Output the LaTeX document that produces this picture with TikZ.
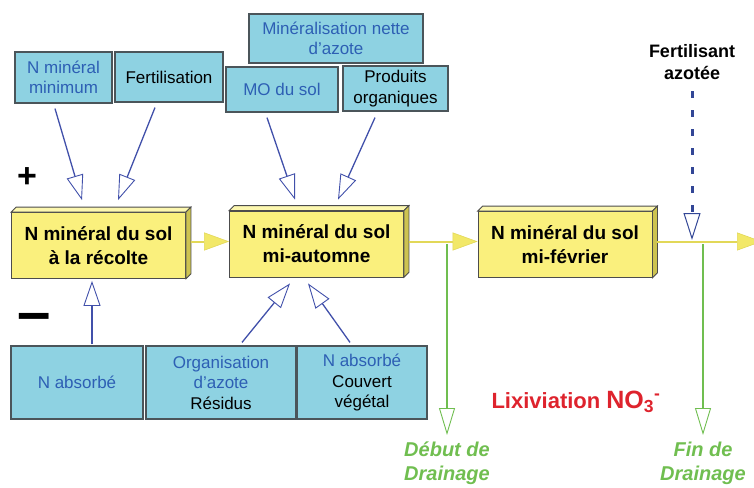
\documentclass[tikz,border=0pt]{standalone}
\usepackage{fontspec}
\setmainfont{Liberation Sans}
\usetikzlibrary{arrows.meta,calc}
\definecolor{boxblue}{RGB}{142,210,226}
\definecolor{boxedge}{RGB}{75,85,90}
\definecolor{txtblue}{RGB}{45,95,180}
\definecolor{arrblue}{RGB}{65,80,170}
\definecolor{dosecol}{RGB}{50,70,150}
\definecolor{soilyel}{RGB}{250,240,125}
\definecolor{soiltop}{RGB}{252,247,175}
\definecolor{soilside}{RGB}{205,195,80}
\definecolor{soilline}{RGB}{226,216,88}
\definecolor{tipyel}{RGB}{242,232,104}
\definecolor{draincol}{RGB}{112,190,80}
\definecolor{lixred}{RGB}{222,35,45}
\newcommand{\boxdepth}[1]{%
  \filldraw[draw=black!70,line width=0.8pt,fill=soiltop] (#1.north west) -- ++(5,-5) -- ($(#1.north east)+(5,-5)$) -- (#1.north east) -- cycle;
  \filldraw[draw=black!70,line width=0.8pt,fill=soilside] (#1.north east) -- ++(5,-5) -- ($(#1.south east)+(5,-5)$) -- (#1.south east) -- cycle;}

\begin{document}
\begin{tikzpicture}[x=1pt,y=-1pt,
  fact/.style={draw=boxedge,line width=1.2pt,fill=boxblue,text=txtblue,align=center,inner sep=0pt,font=\fontsize{17}{20.5}\selectfont},
  soil/.style={draw=black!70,line width=0.8pt,fill=soilyel,minimum width=174pt,minimum height=66pt,inner sep=0pt,align=center,font=\bfseries\fontsize{19}{24}\selectfont},
  feed/.style={arrblue,line width=1.3pt,-{Triangle[open,length=25pt,width=17pt,line width=0.9pt]}},
  flow/.style={soilline,line width=2pt,-{Triangle[length=25pt,width=18pt,line width=0.6pt,fill=tipyel]}},
  drain/.style={draincol,line width=1.3pt,-{Triangle[open,length=27pt,width=16pt,line width=0.9pt]}},
  dose/.style={dosecol,line width=3pt,dash pattern=on 7pt off 12pt,-{Triangle[open,length=27pt,width=17pt,line width=1pt]}},
  drainlbl/.style={draincol,align=center,inner sep=1pt,font=\bfseries\itshape\fontsize{20}{24}\selectfont}]
  \useasboundingbox (0,0) rectangle (754,487);

  % sources (top)
  \node[fact,minimum width=97pt,minimum height=51pt] (minimum) at (63.5,77.5) {N minéral\\minimum};
  \node[fact,text=black,minimum width=108pt,minimum height=50pt] (fertil) at (169,77) {Fertilisation};
  \node[fact,minimum width=174pt,minimum height=49pt] (minera) at (336,38.5) {Minéralisation nette\\d'azote};
  \node[fact,minimum width=112pt,minimum height=45pt] (mosol) at (282,89.5) {MO du sol};
  \node[fact,text=black,minimum width=105pt,minimum height=45pt] (produits) at (395.5,88.5) {Produits\\organiques};
  \node[font=\bfseries\fontsize{18}{22}\selectfont,align=center] (fertaz) at (692,62) {Fertilisant\\azotée};

  % stocks
  \node[soil] (recolte) at (98.5,245.5) {N minéral du sol\\ à la récolte};
  \boxdepth{recolte}
  \node[soil] (automne) at (316.5,244) {N minéral du sol\\ mi-automne};
  \boxdepth{automne}
  \node[soil] (fevrier) at (565,244.5) {N minéral du sol\\ mi-février};
  \boxdepth{fevrier}

  % sinks (bottom)
  \node[fact,minimum width=132pt,minimum height=73pt] (absorbe) at (77,382.5) {N absorbé};
  \node[fact,minimum width=150pt,minimum height=73pt] (organis) at (221,382.5) {Organisation\\d'azote\\\textcolor{black}{Résidus}};
  \node[fact,minimum width=130pt,minimum height=73pt] (couvert) at (362,382.5) {N absorbé\\\textcolor{black}{Couvert}\\\textcolor{black}{végétal}};

  \node[font=\bfseries\fontsize{34}{34}\selectfont] (plus) at (27,178) {+};
  \node[font=\bfseries\fontsize{60}{60}\selectfont] (moins) at (34,323) {–};

  % inputs
  \draw[feed] ($(minimum.south)+(-8.5,5)$) -- ($(recolte.north)+(-16.5,-12)$);
  \draw[feed] ($(fertil.south)+(-14,5)$) -- ($(recolte.north)+(19.5,-12)$);
  \draw[feed] ($(mosol.south)+(-15,5)$) -- ($(automne.north)+(-21.5,-11)$);
  \draw[feed] ($(produits.south)+(-20.5,6)$) -- ($(automne.north)+(21.5,-11)$);
  % outputs
  \draw[feed] ($(absorbe.north)+(15,-1)$) -- ($(recolte.south)+(-6.5,2)$);
  \draw[feed] ($(organis.north)+(21,-3)$) -- ($(automne.south)+(-26.5,6)$);
  \draw[feed] ($(couvert.north)+(-12,-3)$) -- ($(automne.south)+(-8.5,6)$);

  % time course
  \coordinate (sortie) at (762,241.5);
  \draw[flow] ($(recolte.east)+(5,-4)$) -- ($(automne.west)+(0,-2.5)$);
  \draw[flow] ($(automne.east)+(5,-2.5)$) -- ($(fevrier.west)+(0,-3)$);
  \draw[flow] ($(fevrier.east)+(5,-3)$) -- (sortie);

  \coordinate (apport) at (692,240);
  \draw[dose] ($(fertaz.south)+(0,8)$) -- (apport);

  % drainage
  \node[drainlbl,anchor=north] (debutlbl) at (447,441) {Début de\\Drainage};
  \node[drainlbl,anchor=north] (finlbl) at (703,441) {Fin de\\Drainage};
  \coordinate (debut) at (447,244);
  \coordinate (fin) at (703,244);
  \draw[drain] (debut) -- ($(debutlbl.north)+(0,-6)$);
  \draw[drain] (fin) -- ($(finlbl.north)+(0,-6)$);
  \node[lixred,font=\bfseries\fontsize{22}{26}\selectfont] (lixiv) at (576,402) {Lixiviation {\fontsize{25}{26}\selectfont NO\textsubscript{3}\textsuperscript{-}}};
\end{tikzpicture}
\end{document}
